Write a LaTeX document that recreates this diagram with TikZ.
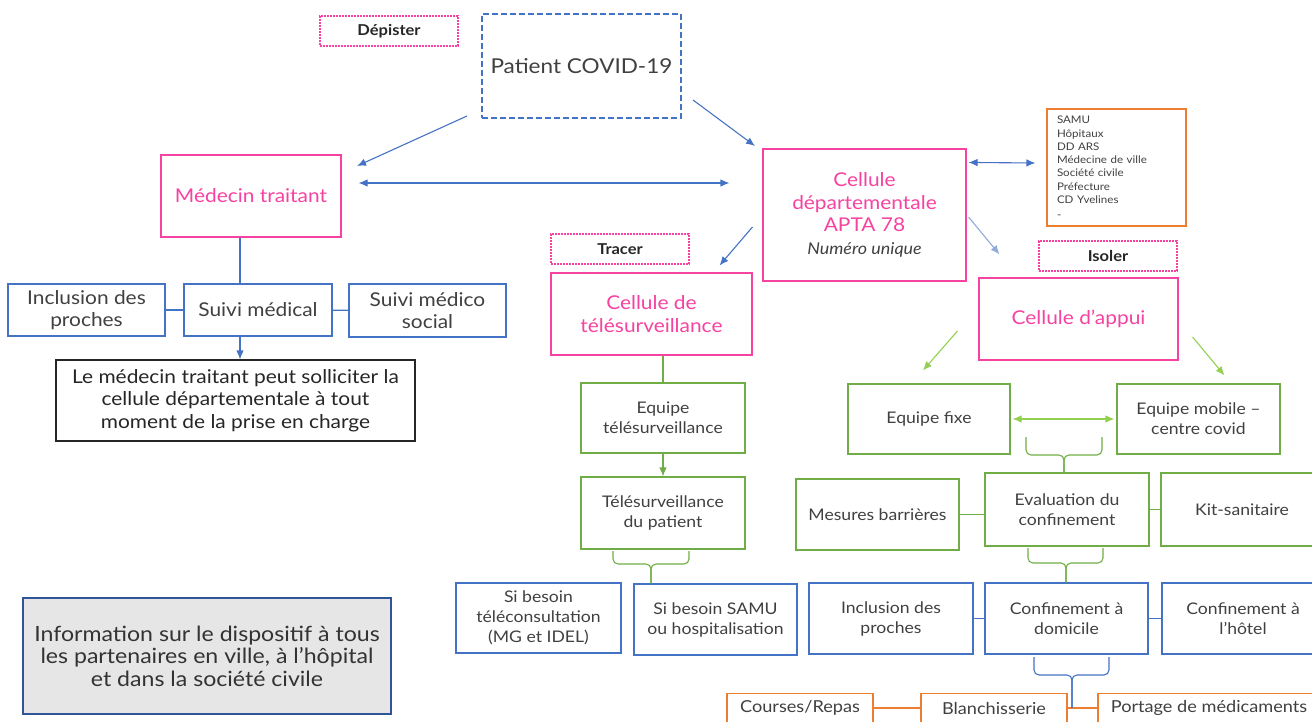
\documentclass[tikz,border=0pt]{standalone}
\usepackage{fontspec}
\setmainfont{Lato}[FakeStretch=1.1]
\usetikzlibrary{calc,arrows.meta}
\definecolor{rose}{RGB}{246,66,160}
\definecolor{bleu}{RGB}{68,114,196}
\definecolor{bleuclair}{RGB}{143,170,220}
\definecolor{vert}{RGB}{112,173,71}
\definecolor{vertclair}{RGB}{146,208,80}
\definecolor{orangec}{RGB}{237,125,49}
\definecolor{texte}{RGB}{64,64,64}
\definecolor{grisfond}{RGB}{231,230,230}
\definecolor{bleufonce}{RGB}{47,85,151}
\begin{document}
\begin{tikzpicture}[x=1pt,y=-1pt,>={Latex[length=9pt,width=7.5pt]},
    every node/.style={text=texte,align=center,inner sep=0pt},
    boite/.style 2 args={draw,line width=1.1pt,minimum width=#1pt,minimum height=#2pt},
    titre/.style={text=rose,font=\fontsize{19}{22.5}\selectfont},
    normal/.style={font=\fontsize{19}{22.5}\selectfont},
    moyen/.style={font=\fontsize{16}{20}\selectfont},
    etiquette/.style={draw=rose,dash pattern=on 2pt off 1pt,line width=1.3pt,minimum width=138pt,minimum height=30pt,font=\bfseries\fontsize{15}{17}\selectfont,text=black!85},
    lien/.style={line width=1.1pt}]
  \useasboundingbox (0,0) rectangle (1312,722);

  % depister
  \node[etiquette] (depister) at (389,31) {Dépister};
  \node[boite={199}{104},draw=bleu,dash pattern=on 6pt off 3pt,font=\fontsize{20.5}{24}\selectfont] (patient) at (581.5,66) {Patient COVID-19};
  \node[boite={180}{82},draw=rose,titre] (medecin) at (251,196) {Médecin traitant};
  \node[boite={203}{132},draw=rose,titre] (cellule) at (864.5,215)
    {Cellule\\départementale\\APTA 78\\{\fontsize{16.3}{22}\selectfont\itshape\color{texte}Numéro unique}};
  \node[boite={139}{117},draw=orangec,font=\fontsize{10.5}{13.3}\selectfont,align=left,text width=119pt] (partenaires) at (1116.5,167.5)
    {SAMU\\Hôpitaux\\DD ARS\\Médecine de ville\\Société civile\\Préfecture\\CD Yvelines\\[2pt]-};

  \draw[->,lien,bleu] (467,116) -- (357,166);
  \draw[->,lien,bleu] (693,100) -- (755,146);
  \coordinate (m1) at ($(medecin.east)+(17,-13)$);
  \coordinate (c1) at ($(cellule.west)+(-33,-32)$);
  \draw[<->,lien,bleu] (m1) -- (c1);
  \coordinate (p1) at ($(partenaires.west)+(-11,-4.5)$);
  \draw[<->,lien,bleu] ($(cellule.north east)+(2,14)$) -- (p1);

  % suivi medical
  \node[boite={157}{52},draw=bleu,normal] (inclusion) at (86.5,310) {Inclusion des\\proches};
  \node[boite={148}{52},draw=bleu,normal] (suivi) at (258,310) {Suivi médical};
  \node[boite={157}{53},draw=bleu,normal] (medicosocial) at (427.5,310.5) {Suivi médico\\social};
  \node[boite={359}{81},draw=black!85,normal,text=black!85] (note) at (235.5,400.5)
    {Le médecin traitant peut solliciter la\\cellule départementale à tout\\moment de la prise en charge};
  \coordinate (v) at (240,0);
  \draw[lien,bleu] (medecin.south -| v) -- (suivi.north -| v);
  \draw[->,lien,bleu] (suivi.south -| v) -- (note.north -| v);
  \draw[lien,bleu] (inclusion) -- (suivi);
  \draw[lien,bleu] (suivi) -- (medicosocial);

  % tracer
  \node[etiquette] (tracer) at (620,249) {Tracer};
  \node[boite={201}{82},draw=rose,titre] (telesurv) at (651.5,314) {Cellule de\\télésurveillance};
  \node[boite={164}{70},draw=vert,moyen] (equipetele) at (663,418) {Equipe\\télésurveillance};
  \node[boite={164}{72},draw=vert,moyen] (telepatient) at (663,513) {Télésurveillance\\du patient};
  \node[boite={165}{70},draw=bleu,moyen] (teleconsult) at (538.5,618) {Si besoin\\téléconsultation\\(MG et IDEL)};
  \node[boite={163}{71},draw=bleu,moyen] (samuhosp) at (715.5,619.5) {Si besoin SAMU\\ou hospitalisation};
  \coordinate (t1) at ($(cellule.west)+(-10,12)$);
  \draw[->,lien,bleu] (t1) -- ($(telesurv.north east)+(-33,-7)$);
  \draw[lien,vert] (equipetele.north |- telesurv.south) -- (equipetele.north);
  \draw[->,lien,vert] (equipetele) -- (telepatient);
  \coordinate (b1) at (651,564);
  \draw[lien,vert,rounded corners=5pt] (613,551) |- (b1) -- (b1 |- samuhosp.north);
  \draw[lien,vert,rounded corners=5pt] (689,551) |- (b1) -- (b1 |- samuhosp.north);

  % isoler
  \node[etiquette] (isoler) at (1108,256) {Isoler};
  \node[boite={199}{82},draw=rose,titre] (appui) at (1078.5,319) {Cellule d'appui};
  \draw[->,lien,bleuclair] ($(cellule.east)+(2,2)$) -- ($(appui.north west)+(21,-23)$);
  \node[boite={162}{70},draw=vert,moyen] (fixe) at (929,419) {Equipe fixe};
  \node[boite={163}{70},draw=vert,moyen] (mobile) at (1198.5,419) {Equipe mobile –\\centre covid};
  \draw[->,lien,vertclair] ($(appui.west)+(-21,12)$) -- ($(fixe.north)+(-6,-13)$);
  \draw[->,lien,vertclair] ($(appui.east)+(14,18)$) -- ($(mobile.north)+(26,-8)$);
  \draw[<->,lien,vertclair,shorten <=2pt,shorten >=2pt] (fixe) -- (mobile);
  \node[boite={163}{71},draw=vert,moyen] (mesures) at (877.5,514.5) {Mesures barrières};
  \node[boite={164}{73},draw=vert,moyen] (evaluation) at (1067,509.5) {Evaluation du\\confinement};
  \node[boite={162}{73},draw=vert,moyen] (kit) at (1242,509.5) {Kit-sanitaire};
  \coordinate (b2) at (1064,455);
  \draw[lien,vert,rounded corners=5pt] (1026,437) |- (b2) -- (b2 |- evaluation.north);
  \draw[lien,vert,rounded corners=5pt] (1102,437) |- (b2) -- (b2 |- evaluation.north);
  \draw[lien,vert] (mesures.east) -- (mesures.east -| evaluation.west);
  \draw[lien,vert] (evaluation) -- (kit);

  % confinement
  \node[boite={164}{71},draw=bleu,moyen] (inclusion2) at (891,618.5) {Inclusion des\\proches};
  \node[boite={163}{71},draw=bleu,moyen] (domicile) at (1066.5,618.5) {Confinement à\\domicile};
  \node[boite={162}{71},draw=bleu,moyen] (hotel) at (1243,618.5) {Confinement à\\l'hôtel};
  \coordinate (b3) at (1066,563);
  \draw[lien,vert,rounded corners=5pt] (1028,548) |- (b3) -- (b3 |- domicile.north);
  \draw[lien,vert,rounded corners=5pt] (1103,548) |- (b3) -- (b3 |- domicile.north);
  \draw[lien,bleu] (inclusion2) -- (domicile);
  \draw[lien,bleu] (domicile) -- (hotel);

  % services
  \node[boite={146}{29},draw=orangec,font=\fontsize{16.5}{19}\selectfont] (courses) at (800,708) {Courses/Repas};
  \node[boite={146}{29},draw=orangec,font=\fontsize{16.5}{19}\selectfont] (blanch) at (994,708) {Blanchisserie};
  \node[boite={222}{29},draw=orangec,font=\fontsize{16.5}{19}\selectfont] (portage) at (1209,708) {Portage de médicaments};
  \draw[lien,orangec] (courses) -- (blanch);
  \draw[lien,orangec] (blanch) -- (portage);
  \coordinate (b4) at (1072,675);
  \draw[lien,bleu,rounded corners=5pt] (1034,657) |- (b4) -- (b4 |- blanch.east);
  \draw[lien,bleu,rounded corners=5pt] (1109,657) |- (b4) -- (b4 |- blanch.east);

  % information
  \node[boite={368}{116},draw=bleufonce,fill=grisfond,font=\fontsize{21}{22.5}\selectfont,text=black!80] (info) at (207,656)
    {Information sur le dispositif à tous\\les partenaires en ville, à l'hôpital\\et dans la société civile};
\end{tikzpicture}
\end{document}
